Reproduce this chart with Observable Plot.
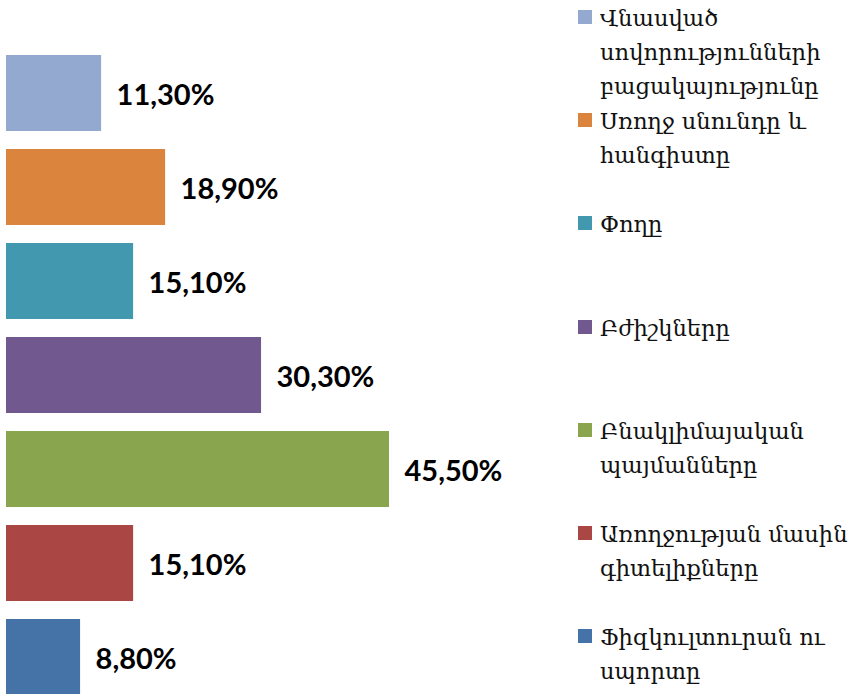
<!DOCTYPE html>
<html>
<head>
<meta charset="utf-8">
<script src="https://cdn.jsdelivr.net/npm/d3@7"></script>
<script src="https://cdn.jsdelivr.net/npm/@observablehq/plot@0.6"></script>
<style>
  html, body { margin: 0; padding: 0; background: #fff; overflow: hidden; }
  #wrap { position: relative; width: 855px; height: 694px; }
  #legend { position: absolute; left: 0; top: 0; width: 855px; height: 694px; pointer-events: none; }
  .item { position: absolute; left: 578px; font-family: "DejaVu Serif", serif; font-size: 22.6px; line-height: 34px; color: #111; white-space: pre-line; }
  .sw { position: absolute; left: 0; top: 0; width: 14px; height: 14px; }
  .txt { position: absolute; left: 22px; top: 0; width: 270px; }
</style>
</head>
<body>
<div id="wrap"><div id="chart"></div><div id="legend"></div></div>
<script>
const categories = [
  "Վնասված սովորությունների բացակայությունը",
  "Սռողջ սնունդը և հանգիստը",
  "Փողը",
  "Բժիշկները",
  "Բնակլիմայական պայմանները",
  "Առողջության մասին գիտելիքները",
  "Ֆիզկուլտուրան ու սպորտը"
];
const legendLines = [
  "Վնասված\nսովորությունների\nբացակայությունը",
  "Սռողջ սնունդը և\nհանգիստը",
  "Փողը",
  "Բժիշկները",
  "Բնակլիմայական\nպայմանները",
  "Առողջության մասին\nգիտելիքները",
  "Ֆիզկուլտուրան ու\nսպորտը"
];
const values = [11.3, 18.9, 15.1, 30.3, 45.5, 15.1, 8.8];
const colors = ["#93A9CF", "#DB843D", "#4198AF", "#71588F", "#89A54E", "#AA4643", "#4572A7"];

const data = categories.map((c, i) => ({category: c, value: values[i]}));
const fmt = v => d3.format(".2f")(v).replace(".", ",") + "%";

const chart = Plot.plot({
  width: 855,
  height: 694,
  marginLeft: 6,
  marginRight: 466,
  marginTop: 0,
  marginBottom: 0,
  x: {domain: [0, d3.max(values)], axis: null},
  y: {domain: categories, range: [37, 714], padding: 0.19, axis: null},
  color: {domain: categories, range: colors},
  marks: [
    Plot.barX(data, {x: "value", y: "category", fill: "category"}),
    Plot.text(data, {
      x: "value", y: "category", text: d => fmt(d.value),
      textAnchor: "start", dx: 15, dy: 2,
      fontSize: 29, fontWeight: "bold", fill: "#000",
      fontFamily: "Lato, 'Liberation Sans', sans-serif"
    })
  ]
});
document.getElementById("chart").appendChild(chart);

const legend = document.getElementById("legend");
legendLines.forEach((t, i) => {
  const item = document.createElement("div");
  item.className = "item";
  item.style.top = (10 + i * 103.2) + "px";
  const sw = document.createElement("div");
  sw.className = "sw";
  sw.style.background = colors[i];
  const tx = document.createElement("div");
  tx.className = "txt";
  tx.style.top = "-9px";
  tx.textContent = t;
  item.appendChild(sw);
  item.appendChild(tx);
  legend.appendChild(item);
});
</script>
</body>
</html>
